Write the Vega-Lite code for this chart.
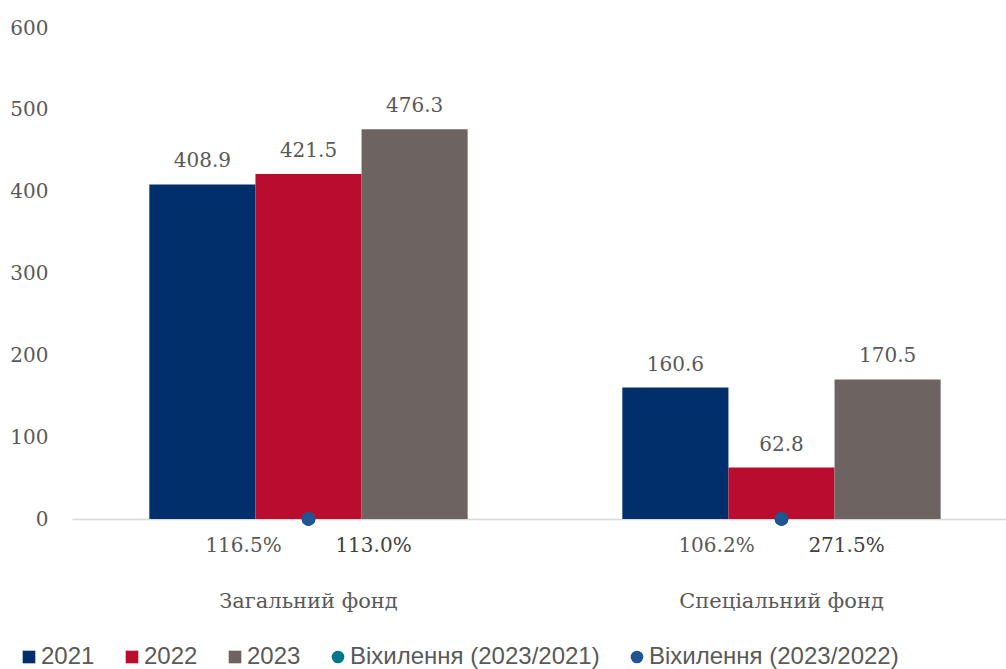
{
  "$schema": "https://vega.github.io/schema/vega-lite/v6.json",
  "width": 934,
  "height": 491,
  "autosize": {"type": "none"},
  "padding": {"left": 72, "top": 28, "right": 0, "bottom": 150},
  "background": "white",
  "config": {
    "view": {"stroke": null},
    "font": "DejaVu Serif",
    "legend": {
      "orient": "none",
      "legendX": -55,
      "legendY": 617,
      "direction": "horizontal",
      "columns": 5,
      "title": null,
      "labelFont": "Liberation Sans",
      "labelFontSize": 24,
      "labelColor": "#595959",
      "labelOffset": 0,
      "labelLimit": 0,
      "columnPadding": 25,
      "symbolSize": 160,
      "symbolStrokeWidth": 0,
      "padding": 0
    }
  },
  "datasets": {
    "bars": [
      {"fund": "Загальний фонд", "series": "2021", "value": 408.9},
      {"fund": "Загальний фонд", "series": "2022", "value": 421.5},
      {"fund": "Загальний фонд", "series": "2023", "value": 476.3},
      {"fund": "Спеціальний фонд", "series": "2021", "value": 160.6},
      {"fund": "Спеціальний фонд", "series": "2022", "value": 62.8},
      {"fund": "Спеціальний фонд", "series": "2023", "value": 170.5}
    ],
    "dev": [
      {"fund": "Загальний фонд", "series": "Віхилення (2023/2021)", "ratio": 1.165},
      {"fund": "Спеціальний фонд", "series": "Віхилення (2023/2021)", "ratio": 1.062},
      {"fund": "Загальний фонд", "series": "Віхилення (2023/2022)", "ratio": 1.130},
      {"fund": "Спеціальний фонд", "series": "Віхилення (2023/2022)", "ratio": 2.715}
    ]
  },
  "encoding": {
    "x": {
      "field": "fund",
      "type": "nominal",
      "sort": ["Загальний фонд", "Спеціальний фонд"],
      "scale": {"range": [0, 946], "paddingInner": 0.327, "paddingOuter": 0.1635},
      "axis": {
        "title": null,
        "labelAngle": 0,
        "labelFont": "DejaVu Serif",
        "labelFontSize": 21,
        "labelLimit": 0,
        "labelColor": "#595959",
        "labelPadding": 71,
        "ticks": false,
        "domainColor": "#D9D9D9",
        "domainWidth": 1.5
      }
    }
  },
  "layer": [
    {
      "data": {"name": "bars"},
      "mark": {"type": "bar"},
      "encoding": {
        "xOffset": {"field": "series", "type": "nominal", "scale": {"paddingInner": 0, "paddingOuter": 0}},
        "y": {
          "field": "value",
          "type": "quantitative",
          "scale": {"domain": [0, 600], "nice": false},
          "axis": {
            "title": null,
            "values": [0, 100, 200, 300, 400, 500, 600],
            "grid": false,
            "domain": false,
            "ticks": false,
            "labelFont": "DejaVu Serif",
            "labelFontSize": 20,
            "labelColor": "#595959",
            "labelPadding": 24
          }
        },
        "color": {
          "field": "series",
          "type": "nominal",
          "scale": {
            "domain": ["2021", "2022", "2023", "Віхилення (2023/2021)", "Віхилення (2023/2022)"],
            "range": ["#002F6C", "#BA0C2F", "#6D6462", "#00778B", "#1F5591"]
          }
        }
      }
    },
    {
      "data": {"name": "bars"},
      "mark": {"type": "text", "baseline": "alphabetic", "dy": -17, "fontSize": 20, "font": "DejaVu Serif", "color": "#595959"},
      "encoding": {
        "xOffset": {"field": "series", "type": "nominal"},
        "y": {"field": "value", "type": "quantitative"},
        "text": {"field": "value", "type": "quantitative", "format": ".1f"}
      }
    },
    {
      "data": {"name": "dev"},
      "mark": {"type": "point", "filled": true, "size": 190, "opacity": 1},
      "encoding": {
        "y": {"datum": 0},
        "color": {
          "field": "series",
          "type": "nominal",
          "scale": {
            "domain": ["2021", "2022", "2023", "Віхилення (2023/2021)", "Віхилення (2023/2022)"],
            "range": ["#002F6C", "#BA0C2F", "#6D6462", "#00778B", "#1F5591"]
          }
        },
        "shape": {
          "field": "series",
          "type": "nominal",
          "scale": {
            "domain": ["2021", "2022", "2023", "Віхилення (2023/2021)", "Віхилення (2023/2022)"],
            "range": ["square", "square", "square", "circle", "circle"]
          }
        }
      }
    },
    {
      "data": {"name": "dev"},
      "transform": [{"filter": "datum.series === 'Віхилення (2023/2021)'"}],
      "mark": {"type": "text", "baseline": "middle", "dx": -65, "dy": 27, "fontSize": 20, "font": "DejaVu Serif", "color": "#595959"},
      "encoding": {
        "y": {"datum": 0},
        "text": {"field": "ratio", "type": "quantitative", "format": ".1%"}
      }
    },
    {
      "data": {"name": "dev"},
      "transform": [{"filter": "datum.series === 'Віхилення (2023/2022)'"}],
      "mark": {"type": "text", "baseline": "middle", "dx": 65, "dy": 27, "fontSize": 20, "font": "DejaVu Serif", "color": "#404040"},
      "encoding": {
        "y": {"datum": 0},
        "text": {"field": "ratio", "type": "quantitative", "format": ".1%"}
      }
    }
  ]
}
